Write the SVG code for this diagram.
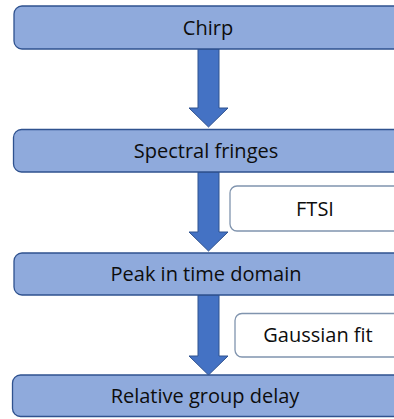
<svg xmlns="http://www.w3.org/2000/svg" width="394" height="419" viewBox="0 0 394 419">
<style>
.step{fill:#8FAADC;stroke:#2F528F;stroke-width:1.3}
.note{fill:#FFFFFF;stroke:#8094AE;stroke-width:1.3}
.arrow{fill:#4472C4;stroke:#2F528F;stroke-width:1}
text{font-family:"Open Sans","Liberation Sans",sans-serif;font-size:20px;fill:#0D0D0D;text-anchor:middle}
</style>
<rect width="394" height="419" fill="#FFFFFF"/>
<g id="connectors">
<polygon class="arrow" points="198,49 219,49 219,108 228,108 208.5,127 189,108 198,108"/>
<polygon class="arrow" points="198,172 219,172 219,232 228,232 208.5,251 189,232 198,232"/>
<polygon class="arrow" points="198,295 219,295 219,356 228,356 208.5,375 189,356 198,356"/>
</g>
<g id="chirp">
<rect class="step" x="14" y="6" width="390" height="43" rx="8"/>
<text x="208" y="34.5">Chirp</text>
</g>
<g id="spectral-fringes">
<rect class="step" x="13.5" y="129.5" width="390" height="42.5" rx="8"/>
<text x="206" y="158">Spectral fringes</text>
</g>
<g id="ftsi">
<rect class="note" x="230" y="186" width="180" height="45" rx="7"/>
<text x="315" y="216">FTSI</text>
</g>
<g id="peak-in-time-domain">
<rect class="step" x="14" y="253" width="390" height="42" rx="8"/>
<text x="206" y="281">Peak in time domain</text>
</g>
<g id="gaussian-fit">
<rect class="note" x="235" y="313.5" width="180" height="43.5" rx="7"/>
<text x="318" y="342">Gaussian fit</text>
</g>
<g id="relative-group-delay">
<rect class="step" x="12.5" y="375" width="390" height="41.5" rx="8"/>
<text x="205" y="402.5">Relative group delay</text>
</g>
</svg>
